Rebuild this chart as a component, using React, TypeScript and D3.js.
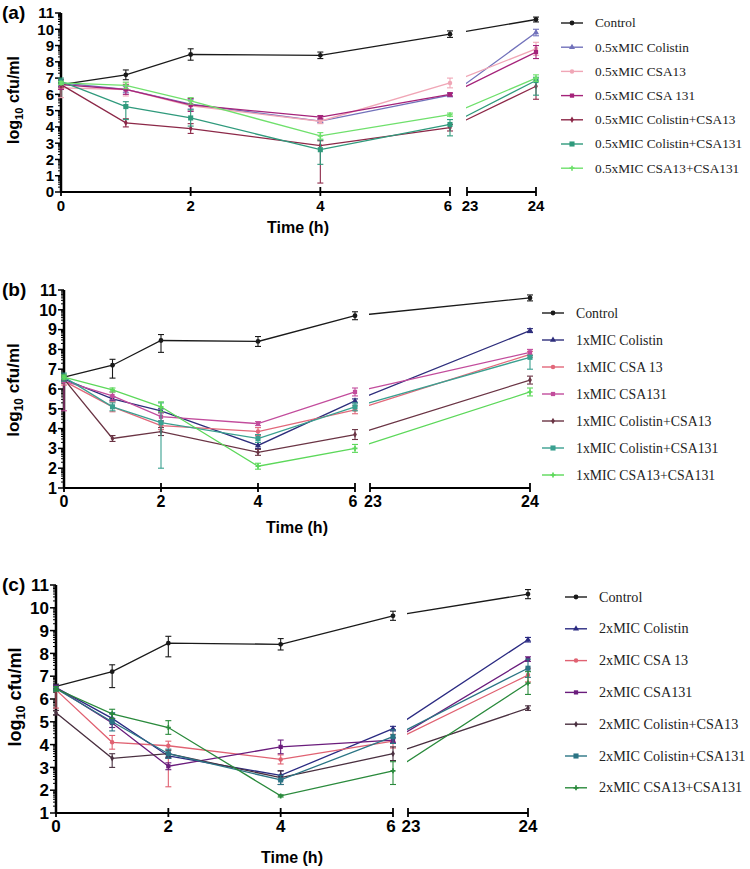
import React from "react";
import * as d3 from "d3";

// sampling times (h); 24 h sits on the second axis segment
const times = [0, 1, 2, 4, 6, 24];

const namesA = ["Control", "0.5xMIC Colistin", "0.5xMIC CSA13", "0.5xMIC CSA 131", "0.5xMIC Colistin+CSA13", "0.5xMIC Colistin+CSA131", "0.5xMIC CSA13+CSA131"];
const namesB = ["Control", "1xMIC Colistin", "1xMIC CSA 13", "1xMIC CSA131", "1xMIC Colistin+CSA13", "1xMIC Colistin+CSA131", "1xMIC CSA13+CSA131"];
const namesC = ["Control", "2xMIC Colistin", "2xMIC CSA 13", "2xMIC CSA131", "2xMIC Colistin+CSA13", "2xMIC Colistin+CSA131", "2xMIC CSA13+CSA131"];

// panel (a) log10 cfu/ml
const ctrlA = [6.6, 7.2, 8.45, 8.4, 9.7, 10.6];
const colA = [6.7, 6.3, 5.4, 4.35, 5.95, 9.8];
const csa13A = [6.4, 6.3, 5.3, 4.35, 6.7, 8.8];
const csa131A = [6.6, 6.3, 5.35, 4.6, 6.0, 8.6];
const colCsa13A = [6.6, 4.25, 3.9, 2.85, 3.95, 6.5];
const colCsa131A = [6.8, 5.25, 4.55, 2.6, 4.15, 6.85];
const csa13Csa131A = [6.7, 6.55, 5.6, 3.45, 4.75, 7.0];

const ctrlAErr = [0.1, 0.3, 0.35, 0.2, 0.2, 0.15];
const colAErr = [0.2, 0.2, 0.3, 0.1, 0.1, 0.2];
const csa13AErr = [[0.6, 0.2], 0.4, 0.3, 0.15, 0.3, 0.4];
const csa131AErr = [0.3, 0.3, 0.4, 0.1, 0.1, 0.4];
const colCsa13AErr = [0.2, 0.25, 0.3, [2.3, 0.3], 0.2, [0.8, 0.3]];
const colCsa131AErr = [0.2, [0.8, 0.3], 0.5, [0.9, 0.6], [0.7, 0.3], [0.9, 0.2]];
const csa13Csa131AErr = [0.1, 0.2, 0.2, 0.2, 0.1, 0.2];

// panel (b)
const ctrlB = [6.6, 7.2, 8.45, 8.4, 9.7, 10.6];
const colB = [6.5, 5.5, 4.9, 3.15, 5.4, 8.95];
const csa13B = [6.4, 5.1, 4.15, 3.85, 4.95, 7.75];
const csa131B = [6.4, 5.65, 4.6, 4.25, 5.85, 7.85];
const colCsa13B = [6.5, 3.5, 3.85, 2.8, 3.7, 6.45];
const colCsa131B = [6.6, 5.1, 4.3, 3.5, 5.1, 7.6];
const csa13Csa131B = [6.6, 5.95, 5.1, 2.1, 3.0, 5.85];

const ctrlBErr = [0.1, [0.65, 0.3], [0.6, 0.3], 0.25, 0.2, 0.15];
const colBErr = [0.1, 0.1, 0.1, 0.15, 0.1, 0.1];
const csa13BErr = [0.2, 0.25, 0.2, 0.2, 0.2, 0.15];
const csa131BErr = [[1.5, 0.2], 0.2, 0.2, 0.1, 0.2, 0.15];
const colCsa13BErr = [0.1, 0.15, 0.2, 0.15, 0.25, 0.2];
const colCsa131BErr = [0.2, 0.2, [2.3, 1.0], 0.2, 0.2, [0.6, 0.1]];
const csa13Csa131BErr = [0.1, 0.1, 0.25, 0.15, 0.2, 0.2];

// panel (c)
const ctrlC = [6.55, 7.2, 8.45, 8.4, 9.65, 10.6];
const colC = [6.5, 5.15, 3.5, 2.65, 4.7, 8.6];
const csa13C = [6.4, 4.1, 3.95, 3.35, 4.15, 7.05];
const csa131C = [6.5, 4.95, 3.05, 3.9, 4.2, 7.75];
const colCsa13C = [5.4, 3.4, 3.6, 2.55, 3.6, 5.6];
const colCsa131C = [6.45, 5.0, 3.6, 2.45, 4.35, 7.35];
const csa13Csa131C = [6.45, 5.35, 4.75, 1.75, 2.85, 6.7];

const ctrlCErr = [0.1, [0.7, 0.3], [0.6, 0.3], 0.25, 0.2, 0.2];
const colCErr = [0.1, 0.2, 0.1, 0.2, 0.1, 0.1];
const csa13CErr = [[0.8, 0.1], 0.3, [1.8, 0.2], 0.2, 0.3, 0.3];
const csa131CErr = [0.1, 0.2, 0.15, 0.3, 0.1, 0.1];
const colCsa13CErr = [0.1, [0.4, 0.2], 0.15, 0.3, 0.3, 0.1];
const colCsa131CErr = [0.1, 0.4, 0.2, 0.2, 0.3, 0.4];
const csa13Csa131CErr = [0.1, 0.2, 0.3, 0.05, [0.6, 0.4], 0.5];

const colorsA = ["#1a1a1a", "#7272bb", "#f0a6b6", "#a5237a", "#8c2848", "#2f9a7c", "#6fe06c"];
const colorsB = ["#1a1a1a", "#2e2e7c", "#e2687a", "#c24c9c", "#6a3444", "#3aa090", "#5cd85a"];
const colorsC = ["#1a1a1a", "#2b2b82", "#e06272", "#6a1c7c", "#4a3040", "#2a7484", "#2a8a3c"];

const symbols = [d3.symbolCircle, d3.symbolTriangle, d3.symbolCircle, d3.symbolSquare, d3.symbolDiamond, d3.symbolSquare, d3.symbolCross];
const symSize = [18, 16, 16, 18, 12, 26, 14];

const FONT = "'Liberation Sans', Arial, sans-serif";
const SERIF = "'Liberation Serif', 'Times New Roman', serif";

function Panel({ id, label, names, series, errs, colors, lay }) {
  const x1 = d3.scaleLinear().domain([0, 6]).range([lay.x0, lay.x6]);
  const x2 = d3.scaleLinear().domain([23, 24]).range([lay.x23, lay.x24]);
  const xp = (t) => (t <= 6 ? x1(t) : x2(t));
  const y = d3.scaleLinear().domain([lay.yMin, 11]).range([lay.yBot, lay.yTop]);
  const line = d3.line().x((d, i) => xp(times[i])).y((d) => y(d));

  const majors = d3.range(lay.yMin, 12);
  const minors = d3.range(lay.yMin, 11).flatMap((n) => d3.range(2, 10).map((k) => n + Math.log10(k)));
  const clipId = "clip-" + id;

  return (
    <g>
      <defs>
        <clipPath id={clipId}>
          <rect x={0} y={lay.yTop - 20} width={lay.x6 + 1} height={lay.yBot - lay.yTop + 40} />
          <rect x={lay.x23 - 1} y={lay.yTop - 20} width={200} height={lay.yBot - lay.yTop + 40} />
        </clipPath>
      </defs>

      <text x={2} y={lay.yTop + 6} fontFamily={FONT} fontWeight="bold" fontSize={19}>{label}</text>

      {/* y axis */}
      <line x1={lay.x0} x2={lay.x0} y1={lay.yTop} y2={lay.yBot} stroke="#000" strokeWidth={2.5} />
      {minors.map((v, i) => (
        <line key={"m" + i} x1={lay.x0 - 3} x2={lay.x0} y1={y(v)} y2={y(v)} stroke="#000" strokeWidth={1} />
      ))}
      {majors.map((v) => (
        <g key={"M" + v}>
          <line x1={lay.x0 - 6} x2={lay.x0} y1={y(v)} y2={y(v)} stroke="#000" strokeWidth={1.5} />
          <text x={lay.x0 - 7} y={y(v)} dy="0.36em" textAnchor="end" fontFamily={FONT} fontWeight="bold" fontSize={lay.fs}>{v}</text>
        </g>
      ))}
      <text transform={`translate(${lay.yLabX},${lay.yLabY}) rotate(-90)`} textAnchor="middle" fontFamily={FONT} fontWeight="bold" fontSize={lay.fs + 1}>
        log<tspan fontSize={(lay.fs + 1) * 0.7} dy={4}>10</tspan><tspan dy={-4}> cfu/ml</tspan>
      </text>

      {/* broken x axis */}
      <line x1={lay.x0 - 1} x2={lay.x6} y1={lay.yBot} y2={lay.yBot} stroke="#000" strokeWidth={2} />
      <line x1={lay.x23} x2={lay.x24} y1={lay.yBot} y2={lay.yBot} stroke="#000" strokeWidth={2} />
      {[0, 2, 4, 6, 23, 24].map((t) => (
        <g key={"x" + t}>
          <line x1={xp(t)} x2={xp(t)} y1={lay.yBot - 5} y2={lay.yBot + 4} stroke="#000" strokeWidth={1.8} />
          <text x={xp(t) + (t === 6 ? -2 : t === 23 ? 3 : 0)} y={lay.yBot + 19} textAnchor="middle" fontFamily={FONT} fontWeight="bold" fontSize={lay.fs}>{t}</text>
        </g>
      ))}
      <text x={lay.tx} y={lay.ty} textAnchor="middle" fontFamily={FONT} fontWeight="bold" fontSize={16}>Time (h)</text>

      {/* series */}
      {series.map((s, si) => (
        <g key={"s" + si}>
          <path d={line(s)} fill="none" stroke={colors[si]} strokeWidth={1.3} clipPath={`url(#${clipId})`} />
          {s.map((v, i) => {
            const e = errs[si][i];
            const lo = Array.isArray(e) ? e[0] : e;
            const hi = Array.isArray(e) ? e[1] : e;
            const cx = xp(times[i]);
            return (
              <g key={i} stroke={colors[si]} strokeWidth={1.1}>
                <line x1={cx} x2={cx} y1={y(v - lo)} y2={y(v + hi)} />
                <line x1={cx - 3} x2={cx + 3} y1={y(v - lo)} y2={y(v - lo)} />
                <line x1={cx - 3} x2={cx + 3} y1={y(v + hi)} y2={y(v + hi)} />
                <path d={d3.symbol().type(symbols[si]).size(symSize[si])()} transform={`translate(${cx},${y(v)})`} fill={colors[si]} stroke="none" />
              </g>
            );
          })}
        </g>
      ))}

      {/* legend */}
      {names.map((n, i) => {
        const ly = lay.legY + i * lay.legStep;
        return (
          <g key={"l" + i}>
            <line x1={lay.legX} x2={lay.legX + 22} y1={ly} y2={ly} stroke={colors[i]} strokeWidth={1.4} />
            <path d={d3.symbol().type(symbols[i]).size(symSize[i])()} transform={`translate(${lay.legX + 11},${ly})`} fill={colors[i]} />
            <text x={lay.legX + 34} y={ly} dy="0.33em" fontFamily={SERIF} fontSize={lay.legFs} fill="#222">{n}</text>
          </g>
        );
      })}
    </g>
  );
}

const layA = { x0: 61, x6: 450, x23: 467, x24: 536, yTop: 13, yBot: 192, yMin: 0, fs: 15, yLabX: 19, yLabY: 100, tx: 298, ty: 233, legX: 561, legY: 23, legStep: 24.2, legFs: 13.3 };
const layB = { x0: 64, x6: 355, x23: 370, x24: 530, yTop: 290, yBot: 488, yMin: 1, fs: 16, yLabX: 19, yLabY: 390, tx: 297, ty: 533, legX: 542, legY: 313, legStep: 27, legFs: 13.8 };
const layC = { x0: 56, x6: 393, x23: 408, x24: 528, yTop: 585, yBot: 813, yMin: 1, fs: 17, yLabX: 21, yLabY: 697, tx: 292, ty: 863, legX: 565, legY: 597, legStep: 31.8, legFs: 14.2 };

export default function App() {
  return (
    <svg width={750} height={869} style={{ position: "absolute", left: 0, top: 0, background: "#fff" }}>
      <Panel id="a" label="(a)" names={namesA} colors={colorsA} lay={layA}
        series={[ctrlA, colA, csa13A, csa131A, colCsa13A, colCsa131A, csa13Csa131A]}
        errs={[ctrlAErr, colAErr, csa13AErr, csa131AErr, colCsa13AErr, colCsa131AErr, csa13Csa131AErr]} />
      <Panel id="b" label="(b)" names={namesB} colors={colorsB} lay={layB}
        series={[ctrlB, colB, csa13B, csa131B, colCsa13B, colCsa131B, csa13Csa131B]}
        errs={[ctrlBErr, colBErr, csa13BErr, csa131BErr, colCsa13BErr, colCsa131BErr, csa13Csa131BErr]} />
      <Panel id="c" label="(c)" names={namesC} colors={colorsC} lay={layC}
        series={[ctrlC, colC, csa13C, csa131C, colCsa13C, colCsa131C, csa13Csa131C]}
        errs={[ctrlCErr, colCErr, csa13CErr, csa131CErr, colCsa13CErr, colCsa131CErr, csa13Csa131CErr]} />
    </svg>
  );
}
